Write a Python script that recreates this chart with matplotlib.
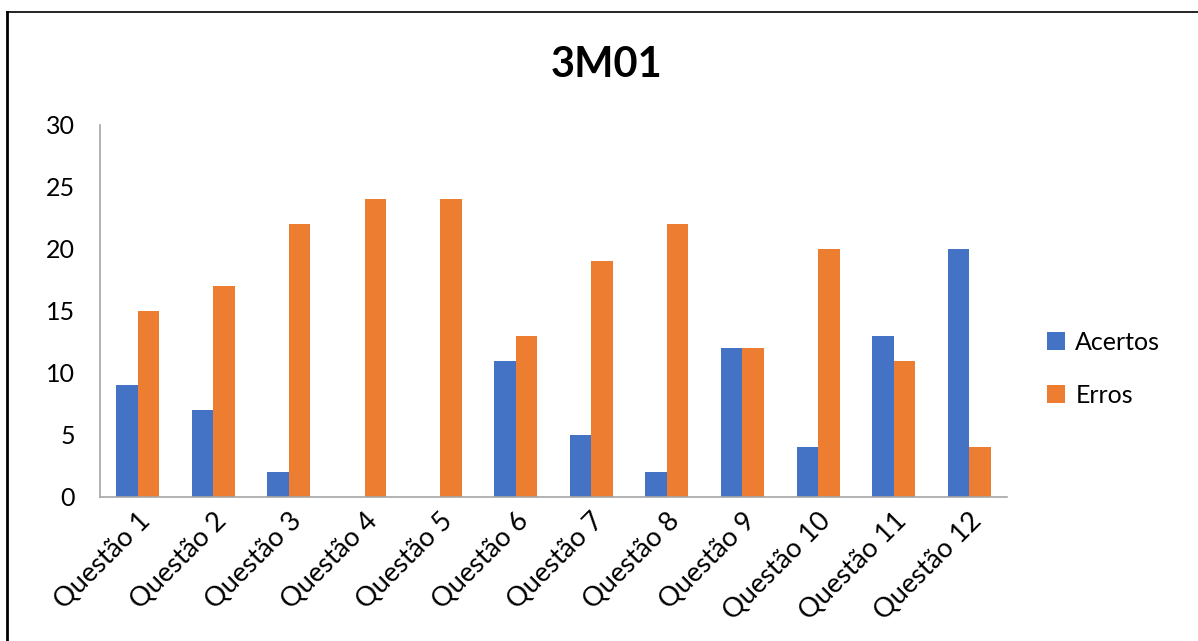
import matplotlib
matplotlib.use("Agg")
import matplotlib.pyplot as plt
from matplotlib.lines import Line2D
import numpy as np

plt.rcParams['font.family'] = ['Lato', 'DejaVu Sans']

questoes = ["Questão 1", "Questão 2", "Questão 3", "Questão 4", "Questão 5", "Questão 6",
            "Questão 7", "Questão 8", "Questão 9", "Questão 10", "Questão 11", "Questão 12"]
acertos = [9, 7, 2, 0, 0, 11, 5, 2, 12, 4, 13, 20]
erros = [15, 17, 22, 24, 24, 13, 19, 22, 12, 20, 11, 4]

W, H = 1198, 641
fig = plt.figure(figsize=(W / 100, H / 100), dpi=100)
ax = fig.add_axes([100 / W, 144 / H, 907 / W, 372 / H])

x = np.arange(len(questoes))
w = 0.285
ax.bar(x - w / 2, acertos, w, color="#4472C4", label="Acertos")
ax.bar(x + w / 2, erros, w, color="#ED7D31", label="Erros")

ax.set_xlim(-0.5, len(questoes) - 0.5)
ax.set_ylim(0, 30)
ax.set_yticks(range(0, 31, 5))
ax.set_xticks(x)
ax.set_xticklabels(questoes, rotation=45, ha="right", rotation_mode="anchor")
ax.tick_params(axis="y", length=0, labelsize=18, colors="black", pad=18)
ax.tick_params(axis="x", length=0, labelsize=19.5, colors="black", pad=8)

for s in ["top", "right"]:
    ax.spines[s].set_visible(False)
for s in ["left", "bottom"]:
    ax.spines[s].set_color("#A6A6A6")
    ax.spines[s].set_linewidth(1.2)

fig.text(607 / W, 1 - 65 / H, "3M01", ha="center", va="center",
         fontsize=30, fontweight="bold")

fig.legend(loc="center left", bbox_to_anchor=(1024 / W, 1 - 369 / H), frameon=False,
           fontsize=18, handlelength=0.75, handleheight=0.75, handletextpad=0.4,
           labelspacing=1.2)

# moldura
fig.add_artist(Line2D([7 / W, 7 / W], [0, 1 - 12 / H], color="black", lw=2))
fig.add_artist(Line2D([7 / W, 1], [1 - 12 / H, 1 - 12 / H], color="black", lw=1.2))

fig.savefig("out.png", dpi=100)
